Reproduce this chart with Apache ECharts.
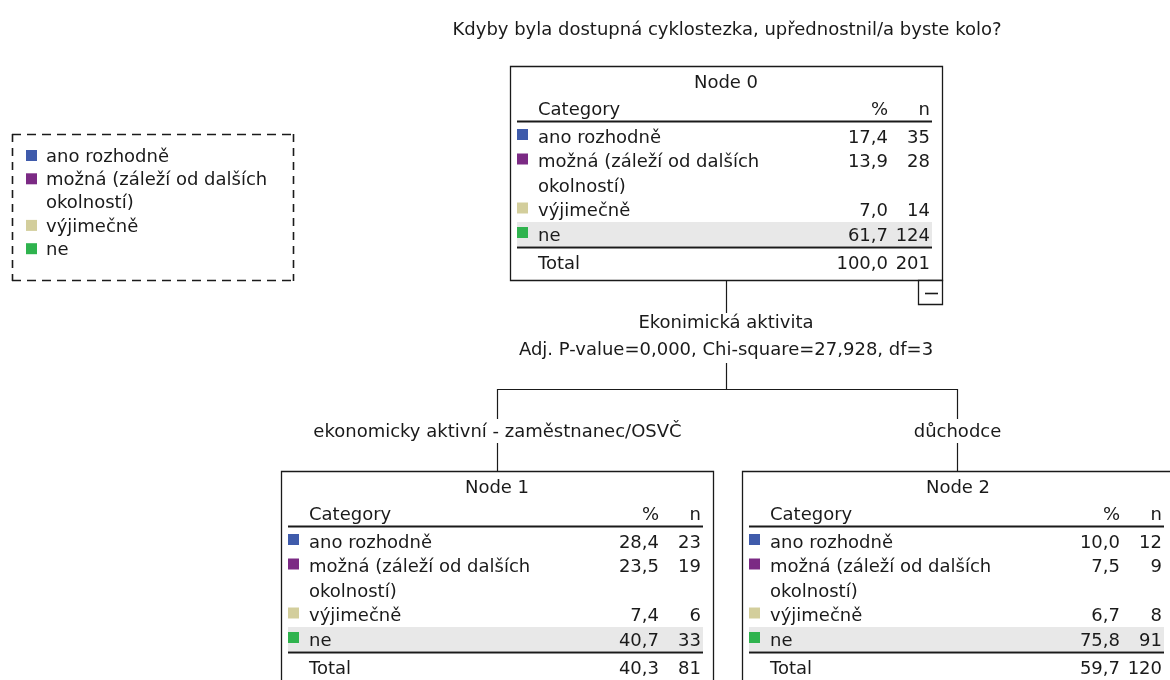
<!DOCTYPE html>
<html>
<head>
<meta charset="utf-8">
<script src="https://cdn.jsdelivr.net/npm/echarts@6/dist/echarts.min.js"></script>
<style>
  html, body { margin: 0; padding: 0; background: #fff; }
  #chart { width: 1170px; height: 680px; }
</style>
</head>
<body>
<div id="chart"></div>
<script>
// data
const title = 'Kdyby byla dostupná cyklostezka, upřednostnil/a byste kolo?';
const categories = ['ano rozhodně', 'možná (záleží od dalších\nokolností)', 'výjimečně', 'ne'];
const node0Pct = [17.4, 13.9, 7.0, 61.7];
const node0N = [35, 28, 14, 124];
const node1Pct = [28.4, 23.5, 7.4, 40.7];
const node1N = [23, 19, 6, 33];
const node2Pct = [10.0, 7.5, 6.7, 75.8];
const node2N = [12, 9, 8, 91];
const totalPct = [100.0, 40.3, 59.7];
const totalN = [201, 81, 120];
const splitVar = 'Ekonimická aktivita';
const splitStats = 'Adj. P-value=0,000, Chi-square=27,928, df=3';
const branchLabels = ['ekonomicky aktivní - zaměstnanec/OSVČ', 'důchodce'];

// styles
const catColors = ['#3f5bab', '#7b2a84', '#d3ce9c', '#2fb34e'];
const FONT = '"DejaVu Sans", Verdana, sans-serif';
const FS = 18;
const INK = '#1a1a1a';

const chart = echarts.init(document.getElementById('chart'));
const els = [];

function txt(x, y, s, align, size) {
    els.push({
        type: 'text', x: x, y: y, silent: true, z: 10,
        style: { text: s, font: (size || FS) + 'px ' + FONT, fill: INK, textAlign: align || 'left', textVerticalAlign: 'middle' }
    });
}
function line(x1, y1, x2, y2, w, dash) {
    els.push({
        type: 'line', silent: true, z: 5,
        shape: { x1: x1, y1: y1, x2: x2, y2: y2 },
        style: { stroke: INK, lineWidth: w || 1.2, lineDash: dash || null }
    });
}
function rect(x, y, w, h, fill, stroke, z) {
    els.push({
        type: 'rect', silent: true, z: z || 1,
        shape: { x: x, y: y, width: w, height: h },
        style: { fill: fill || 'none', stroke: stroke || null, lineWidth: 1.3 }
    });
}
const fmt = v => v.toFixed(1).replace('.', ',');

const BOX_W = 432;
const BOX_H = 214;

function drawNode(idx, L, T, pct, n) {
    rect(L + 0.5, T + 0.5, BOX_W, BOX_H, '#fff', INK, 1);
    txt(L + BOX_W / 2, T + 17, 'Node ' + idx, 'center');
    txt(L + 28, T + 44, 'Category');
    txt(L + 378, T + 44, '%', 'right');
    txt(L + 420, T + 44, 'n', 'right');
    line(L + 7, T + 55.5, L + 422, T + 55.5, 1.8);
    let li = 0;
    categories.forEach((c, i) => {
        const y = T + 72 + li * 24.5;
        const parts = c.split('\n');
        if (i === categories.length - 1) {
            rect(L + 7, y - 14, 415, 24, '#e8e8e8', null, 2);
        }
        rect(L + 7, y - 9, 11, 11, catColors[i], null, 3);
        parts.forEach((p, k) => txt(L + 28, y + k * 24.5, p));
        txt(L + 378, y, fmt(pct[i]), 'right');
        txt(L + 420, y, String(n[i]), 'right');
        li += parts.length;
    });
    line(L + 7, T + 181.5, L + 422, T + 181.5, 1.8);
    txt(L + 28, T + 198, 'Total');
    txt(L + 378, T + 198, fmt(totalPct[idx]), 'right');
    txt(L + 420, T + 198, String(totalN[idx]), 'right');
}

// title
txt(727, 30, title, 'center');

// legend (dashed frame)
line(12, 134.5, 294, 134.5, 1.6, [9, 6]);
line(12, 280.5, 294, 280.5, 1.6, [9, 6]);
line(12.5, 134, 12.5, 281, 1.6, [8, 6]);
line(293.5, 134, 293.5, 281, 1.6, [8, 6]);
let lrow = 0;
categories.forEach((c, i) => {
    const y = 157 + lrow * 23.3;
    rect(26, y - 7, 11, 11, catColors[i], null, 3);
    const parts = c.split('\n');
    parts.forEach((p, k) => txt(46, y + k * 23.3, p));
    lrow += parts.length;
});

// nodes
drawNode(0, 510, 66, node0Pct, node0N);
drawNode(1, 281, 471, node1Pct, node1N);
drawNode(2, 742, 471, node2Pct, node2N);

// collapse button
rect(918.5, 280.5, 24, 24, '#fff', INK, 3);
line(925, 293.5, 938, 293.5, 1.6);

// connectors
line(726.5, 281, 726.5, 313);
txt(726, 323, splitVar, 'center');
txt(726, 350, splitStats, 'center');
line(726.5, 363, 726.5, 389);
line(497, 389.5, 958, 389.5);
const bx = [497.5, 957.5];
bx.forEach((x, i) => {
    line(x, 389, x, 419);
    txt(x, 432, branchLabels[i], 'center');
    line(x, 443, x, 471);
});

chart.setOption({
    backgroundColor: '#fff',
    animation: false,
    graphic: { elements: els }
});
</script>
</body>
</html>
